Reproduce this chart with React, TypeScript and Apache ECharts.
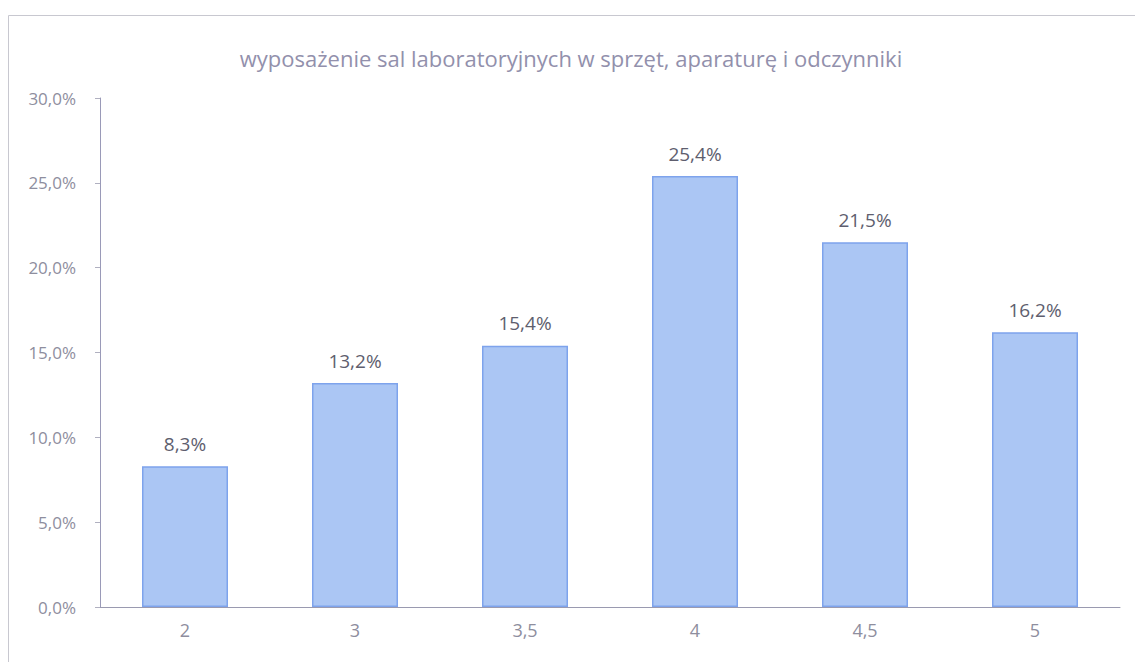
import React, { useEffect, useRef } from "react";
import * as echarts from "echarts";

const categories = ["2", "3", "3,5", "4", "4,5", "5"];
const values = [8.3, 13.2, 15.4, 25.4, 21.5, 16.2];
const titleText = "wyposażenie sal laboratoryjnych w sprzęt, aparaturę i odczynniki";

const fmt = (v: number) => v.toFixed(1).replace(".", ",") + "%";

export default function App() {
  const ref = useRef<HTMLDivElement>(null);
  useEffect(() => {
    const chart = echarts.init(ref.current!, null, { renderer: "svg" });
    chart.setOption({
      animation: false,
      backgroundColor: "#ffffff",
      title: {
        text: titleText,
        left: 566,
        textAlign: "center",
        top: 42,
        textStyle: { color: "#9290ac", fontSize: 22, fontWeight: "normal", fontFamily: "Open Sans" },
      },
      graphic: [
        {
          type: "rect",
          shape: { x: 8.5, y: 15.5, width: 1140, height: 700 },
          style: { fill: "none", stroke: "#c8c8d0", lineWidth: 1 },
          silent: true,
        },
      ],
      grid: { left: 100, right: 15, top: 98, bottom: 55, containLabel: false },
      xAxis: {
        type: "category",
        data: categories,
        axisLine: { lineStyle: { color: "#9a9ab0" } },
        axisTick: { show: false },
        axisLabel: { color: "#8e8e9e", fontSize: 18, margin: 14, fontFamily: "Open Sans" },
      },
      yAxis: {
        type: "value",
        min: 0,
        max: 30,
        interval: 5,
        axisLine: { show: true, lineStyle: { color: "#9a9ab8" } },
        axisTick: { show: true, length: 5, lineStyle: { color: "#b0b0c0" } },
        splitLine: { show: false },
        axisLabel: { color: "#8e8e9e", fontSize: 17, margin: 24, formatter: (v: number) => fmt(v), fontFamily: "Open Sans" },
      },
      series: [
        {
          type: "bar",
          data: values,
          barWidth: 86,
          itemStyle: { color: "#abc6f4", borderColor: "#7ea3ec", borderWidth: 1.5 },
          label: {
            show: true,
            position: "top",
            distance: 13,
            color: "#5e5e6e",
            fontSize: 19,
            fontFamily: "Open Sans",
            formatter: (p: any) => fmt(p.value),
          },
        },
      ],
    });
    return () => chart.dispose();
  }, []);
  return <div ref={ref} style={{ position: "fixed", left: 0, top: 0, width: 1135, height: 662 }} />;
}
